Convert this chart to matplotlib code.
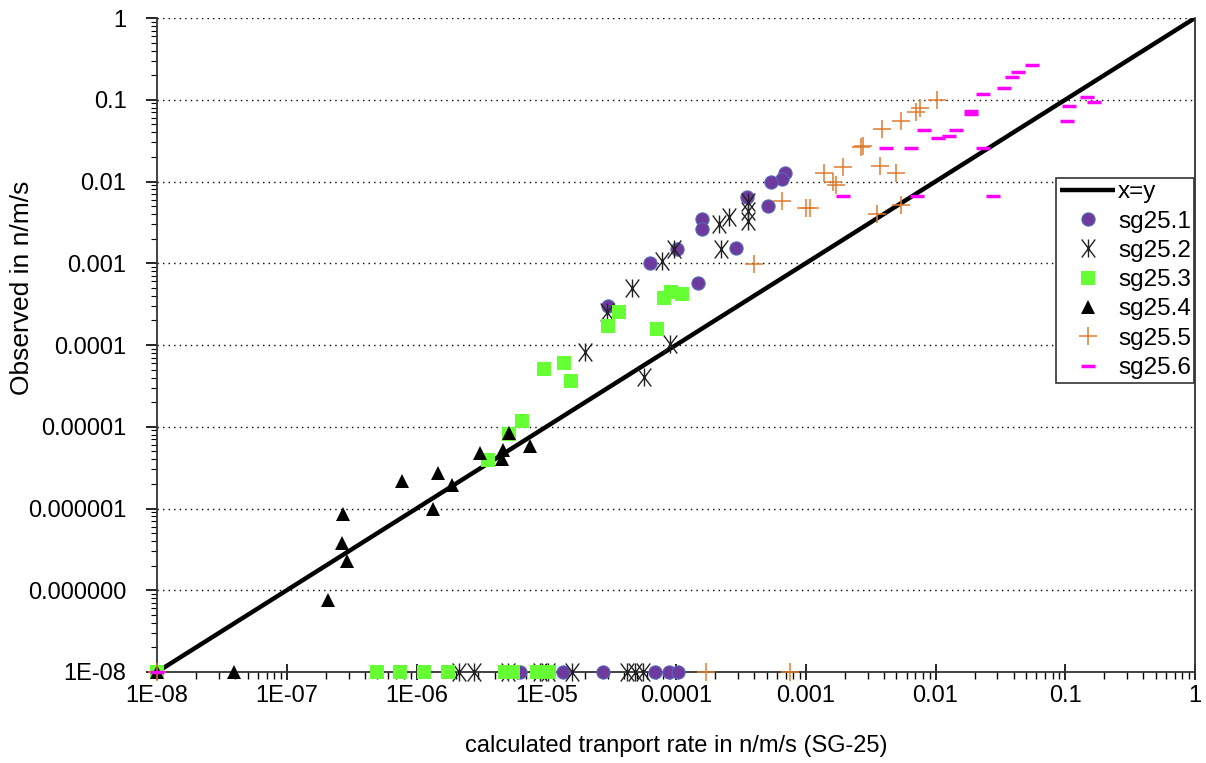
import matplotlib
matplotlib.use("Agg")
import matplotlib.pyplot as plt
from matplotlib.path import Path
from matplotlib.ticker import FixedLocator, FixedFormatter, LogLocator, NullFormatter

plt.rcParams['font.family'] = ['Liberation Sans', 'DejaVu Sans']

# data (calculated, observed)
sg1_x = [6.9e-4, 6.6e-4, 5.4e-4, 5.1e-4, 3.5e-4, 1.58e-4, 1.58e-4, 2.9e-4, 6.3e-5, 1.48e-4, 3.0e-5, 1.02e-4,
         6.3e-6, 1.35e-5, 2.74e-5, 6.9e-5, 8.8e-5, 1.04e-4]
sg1_y = [0.0127, 0.0107, 0.0099, 0.0050, 0.0065, 0.0035, 0.0026, 0.00153, 0.00101, 5.7e-4, 3.0e-4, 1.49e-3,
         1e-8, 1e-8, 1e-8, 1e-8, 1e-8, 1e-8]

sg2_x = [3.62e-4, 3.62e-4, 3.62e-4, 2.58e-4, 2.13e-4, 2.21e-4, 9.7e-5, 7.8e-5, 4.6e-5, 2.92e-5, 1.99e-5, 9.0e-5, 5.66e-5,
         2.13e-6, 2.77e-6, 5.07e-6, 8.95e-6, 1.03e-5, 1.58e-5, 4.19e-5, 4.83e-5, 5.57e-5]
sg2_y = [0.0056, 0.00435, 0.00333, 0.00373, 0.00302, 0.00148, 0.00149, 0.00107, 4.93e-4, 2.51e-4, 8.15e-5, 1.02e-4, 4.09e-5,
         1e-8, 1e-8, 1e-8, 1e-8, 1e-8, 1e-8, 1e-8, 1e-8, 1e-8]

sg3_x = [8.1e-5, 9.1e-5, 1.12e-4, 3.64e-5, 2.98e-5, 7.2e-5, 9.6e-6, 1.37e-5, 1.54e-5, 6.5e-6, 5.16e-6, 3.54e-6,
         1e-8, 4.97e-7, 7.46e-7, 1.14e-6, 1.75e-6, 4.81e-6, 5.55e-6, 8.49e-6, 1.05e-5]
sg3_y = [3.79e-4, 4.49e-4, 4.21e-4, 2.51e-4, 1.71e-4, 1.57e-4, 5.05e-5, 5.97e-5, 3.63e-5, 1.19e-5, 8.1e-6, 3.92e-6,
         1e-8, 1e-8, 1e-8, 1e-8, 1e-8, 1e-8, 1e-8, 1e-8, 1e-8]

sg4_x = [5.16e-6, 4.67e-6, 4.54e-6, 7.5e-6, 3.08e-6, 1.46e-6, 1.89e-6, 7.7e-7, 1.35e-6, 2.70e-7, 2.65e-7, 2.90e-7, 2.07e-7,
         3.9e-8, 1e-8]
sg4_y = [8.3e-6, 5.2e-6, 4.0e-6, 5.86e-6, 4.82e-6, 2.70e-6, 1.94e-6, 2.17e-6, 9.9e-7, 8.5e-7, 3.8e-7, 2.28e-7, 7.6e-8,
         1e-8, 1e-8]

sg5_x = [0.0102, 0.0076, 0.0071, 0.0054, 0.00385, 0.00267, 0.00274, 0.00195, 0.00373, 0.00497, 0.00138, 0.00163,
         0.00171, 6.6e-4, 1.0e-3, 1.07e-3, 0.00352, 0.0054, 4.0e-4, 1.70e-4, 7.6e-4, 1e-8]
sg5_y = [0.099, 0.0785, 0.0714, 0.055, 0.0434, 0.0262, 0.0274, 0.0152, 0.0155, 0.0126, 0.0126, 0.0099,
         0.0091, 0.0058, 0.0048, 0.0048, 0.0040, 0.0051, 9.8e-4, 1e-8, 1e-8, 1e-8]

sg6_x = [0.0557, 0.0434, 0.0386, 0.0337, 0.0231, 0.0187, 0.0187, 0.0082, 0.0144, 0.0128, 0.0105, 0.00413, 0.00644,
         0.0231, 0.00193, 0.00716, 0.0276, 0.106, 0.103, 0.148, 0.167, 1e-8]
sg6_y = [0.266, 0.220, 0.191, 0.138, 0.117, 0.0734, 0.067, 0.0427, 0.0427, 0.036, 0.0337, 0.0255, 0.0255,
         0.0255, 0.0067, 0.0067, 0.0067, 0.0838, 0.055, 0.107, 0.0937, 1e-8]

line_xy = [1e-8, 1]
tick_vals = [1e-8, 1e-7, 1e-6, 1e-5, 1e-4, 1e-3, 1e-2, 1e-1, 1]
x_labels = ['1E-08', '1E-07', '1E-06', '1E-05', '0.0001', '0.001', '0.01', '0.1', '1']
y_labels = ['1E-08', '0.000000', '0.000001', '0.00001', '0.0001', '0.001', '0.01', '0.1', '1']

# excel style asterisk: X with a vertical bar
star = Path([(0, -1), (0, 1), (-0.75, -1), (0.75, 1), (-0.75, 1), (0.75, -1)],
            [Path.MOVETO, Path.LINETO, Path.MOVETO, Path.LINETO, Path.MOVETO, Path.LINETO])

fig = plt.figure(figsize=(12.06, 7.63), dpi=100)
ax = fig.add_axes([157/1206, 1 - 672/763, (1195 - 157)/1206, (672 - 18)/763])
ax.set_xscale('log')
ax.set_yscale('log')
ax.set_xlim(1e-8, 1)
ax.set_ylim(1e-8, 1)

ax.plot(line_xy, line_xy, color='black', lw=3.2, label='x=y', zorder=2, solid_capstyle='butt')

kw = dict(ls='none', clip_on=False, zorder=3)
ax.plot(sg1_x, sg1_y, marker='o', ms=9.5, mfc='#6E3A9E', mec='#5468B8', mew=0.8, label='sg25.1', **kw)
ax.plot(sg2_x, sg2_y, marker=star, ms=13, mfc='none', mec='#222222', mew=1.0, label='sg25.2', **kw)
ax.plot(sg3_x, sg3_y, marker='s', ms=9.5, mfc='#66FF33', mec='#66FF33', mew=0, label='sg25.3', **kw)
ax.plot(sg4_x, sg4_y, marker='^', ms=10.5, mfc='black', mec='black', mew=0, label='sg25.4', **kw)
ax.plot(sg5_x, sg5_y, marker='+', ms=13, mec='#E07B2E', mew=1.1, label='sg25.5', **kw)
ax.plot(sg6_x, sg6_y, marker='_', ms=10, mec='#FF00FF', mew=2.5, label='sg25.6', **kw)

ax.xaxis.set_major_locator(FixedLocator(tick_vals))
ax.xaxis.set_major_formatter(FixedFormatter(x_labels))
ax.yaxis.set_major_locator(FixedLocator(tick_vals))
ax.yaxis.set_major_formatter(FixedFormatter(y_labels))
ax.xaxis.set_minor_locator(LogLocator(base=10, subs=range(2, 10), numticks=20))
ax.yaxis.set_minor_locator(LogLocator(base=10, subs=range(2, 10), numticks=20))
ax.xaxis.set_minor_formatter(NullFormatter())
ax.yaxis.set_minor_formatter(NullFormatter())

ax.tick_params(axis='x', which='major', direction='inout', length=12, width=1.2, labelsize=17, pad=3)
ax.tick_params(axis='x', which='minor', direction='out', length=5, width=1)
ax.tick_params(axis='y', which='major', direction='out', length=8, width=1.2, labelsize=17, pad=14)
ax.tick_params(axis='y', which='minor', direction='out', length=4, width=0.8)

ax.grid(True, which='major', axis='y', color='black', ls=(0, (1, 3)), lw=1)
ax.set_axisbelow(True)

ax.spines['top'].set_visible(False)
for s in ['left', 'bottom', 'right']:
    ax.spines[s].set_color('#333333')
    ax.spines[s].set_linewidth(1.3)

ax.set_xlabel('calculated tranport rate in n/m/s (SG-25)', fontsize=17)
ax.xaxis.set_label_coords(0.5, -(746 - 672) / 654, transform=ax.transAxes)
ax.set_ylabel('Observed in n/m/s', fontsize=19)
ax.yaxis.set_label_coords(-(157 - 22) / 1038, (672 - 288) / 654, transform=ax.transAxes)
ax.xaxis.label.set_va('center')
ax.yaxis.label.set_va('center')

leg = ax.legend(loc='upper left', bbox_to_anchor=(0.866, 0.756), fontsize=17.5, frameon=True, fancybox=False,
                edgecolor='#333333', framealpha=1, borderpad=0.15, labelspacing=0.3, handlelength=2.3,
                handletextpad=0.1, borderaxespad=0, numpoints=1)
leg.get_frame().set_linewidth(1.2)
leg.set_zorder(5)

fig.savefig('out.png', dpi=100)
